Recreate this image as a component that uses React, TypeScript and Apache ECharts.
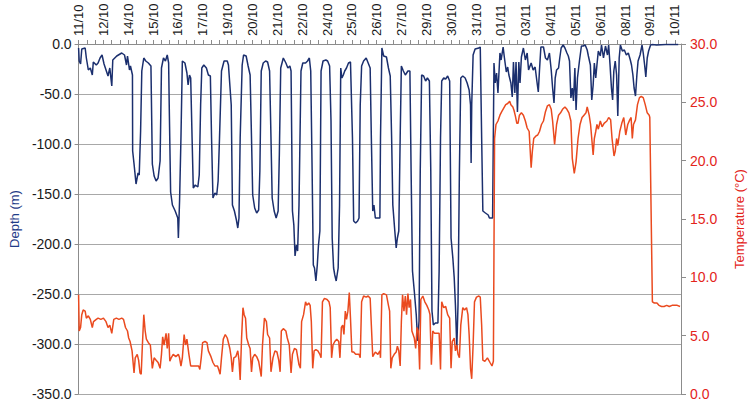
import React, { useEffect, useRef } from "react";
import * as echarts from "echarts";

// time = days since 11/10 00:00
const depthReadings: [number, number][] = [
  [0.60,-4],[0.63,-17],[0.70,-20],[0.76,-5],[0.93,-4],[0.99,-14],[1.09,-26],[1.19,-24],[1.29,-31],[1.34,-18],
  [1.49,-21],[1.58,-19],[1.68,-14],[1.78,-11],[1.88,-20],[1.98,-26],[2.08,-32],[2.17,-24],[2.27,-42],[2.32,-16],
  [2.52,-12],[2.77,-9],[2.91,-11],[3.01,-21],[3.06,-12],[3.16,-26],[3.21,-22],[3.31,-31],[3.32,-107],[3.39,-120],
  [3.49,-140],[3.59,-129],[3.65,-131],[3.72,-87],[3.78,-27],[3.88,-14],[3.98,-17],[4.11,-19],[4.24,-22],[4.31,-120],
  [4.40,-132],[4.50,-137],[4.60,-134],[4.70,-117],[4.77,-24],[4.87,-14],[4.97,-17],[5.06,-11],[5.13,-19],[5.16,-61],
  [5.23,-148],[5.32,-161],[5.46,-167],[5.59,-174],[5.62,-194],[5.68,-157],[5.75,-94],[5.82,-17],[5.95,-19],[6.05,-29],
  [6.11,-41],[6.18,-31],[6.24,-34],[6.31,-94],[6.37,-144],[6.47,-141],[6.60,-143],[6.67,-131],[6.74,-61],[6.80,-24],
  [6.90,-21],[7.03,-24],[7.13,-31],[7.23,-32],[7.29,-94],[7.36,-154],[7.46,-149],[7.55,-151],[7.62,-137],[7.69,-94],
  [7.79,-27],[7.92,-17],[8.08,-17],[8.14,-21],[8.28,-61],[8.34,-161],[8.44,-167],[8.54,-176],[8.61,-184],[8.67,-174],
  [8.73,-94],[8.83,-21],[8.90,-11],[9.03,-12],[9.13,-22],[9.23,-31],[9.30,-94],[9.36,-151],[9.46,-164],[9.56,-169],
  [9.66,-166],[9.72,-127],[9.79,-27],[9.89,-19],[10.01,-17],[10.11,-18],[10.21,-27],[10.28,-94],[10.34,-154],[10.44,-167],
  [10.54,-174],[10.64,-167],[10.70,-111],[10.77,-24],[10.90,-14],[11.03,-19],[11.13,-24],[11.23,-22],[11.29,-27],[11.36,-167],
  [11.43,-181],[11.49,-212],[11.56,-201],[11.62,-207],[11.69,-161],[11.79,-27],[11.88,-19],[12.02,-19],[12.12,-17],[12.21,-14],
  [12.28,-27],[12.35,-127],[12.41,-221],[12.47,-224],[12.54,-237],[12.61,-221],[12.67,-201],[12.74,-187],[12.80,-27],[12.90,-17],
  [13.04,-16],[13.13,-17],[13.23,-22],[13.30,-77],[13.36,-194],[13.43,-224],[13.49,-231],[13.56,-237],[13.66,-224],[13.73,-161],
  [13.79,-24],[13.85,-34],[13.92,-31],[13.99,-27],[14.08,-24],[14.18,-19],[14.28,-18],[14.38,-94],[14.44,-177],[14.54,-179],
  [14.64,-177],[14.71,-174],[14.77,-61],[14.84,-22],[14.94,-17],[15.07,-14],[15.17,-19],[15.27,-24],[15.33,-94],[15.40,-167],
  [15.46,-161],[15.53,-174],[15.76,-174],[15.79,-94],[15.86,-4],[15.95,-12],[16.09,-13],[16.19,-24],[16.28,-32],[16.35,-94],
  [16.41,-161],[16.51,-187],[16.58,-204],[16.64,-194],[16.71,-187],[16.78,-94],[16.84,-22],[16.94,-27],[17.04,-31],[17.17,-27],
  [17.27,-27],[17.33,-127],[17.40,-227],[17.49,-247],[17.59,-271],[17.66,-297],[17.73,-277],[17.79,-127],[17.86,-31],[17.96,-32],
  [18.06,-37],[18.15,-34],[18.25,-37],[18.32,-127],[18.38,-267],[18.45,-281],[18.55,-279],[18.68,-279],[18.74,-227],[18.81,-94],
  [18.87,-37],[18.97,-34],[19.07,-35],[19.17,-32],[19.27,-37],[19.34,-194],[19.43,-214],[19.50,-234],[19.56,-261],[19.63,-304],
  [19.69,-261],[19.76,-127],[19.83,-34],[19.93,-32],[20.05,-34],[20.15,-39],[20.25,-46],[20.32,-61],[20.35,-119],[20.38,-61],
  [20.45,-11],[20.55,-5],[20.74,-4],[20.81,-3],[20.88,-94],[20.94,-167],[21.07,-169],[21.21,-171],[21.27,-174],[21.43,-174],
  [21.50,-19],[21.56,-39],[21.63,-29],[21.70,-49],[21.80,-9],[21.86,-16],[21.96,-3],[22.02,-13],[22.12,-28],[22.19,-23],
  [22.25,-31],[22.35,-39],[22.42,-53],[22.48,-18],[22.55,-49],[22.61,-18],[22.68,-68],[22.75,-18],[22.81,-39],[22.88,-13],
  [22.98,-4],[23.08,-16],[23.17,-9],[23.24,-26],[23.37,-19],[23.47,-26],[23.57,-23],[23.67,-39],[23.73,-48],[23.79,-26],
  [23.86,-3],[23.99,-3],[24.09,-14],[24.19,-16],[24.29,-9],[24.38,-26],[24.45,-44],[24.52,-59],[24.58,-34],[24.65,-26],
  [24.75,-24],[24.81,-14],[24.88,-4],[24.98,-1],[25.07,-4],[25.17,-9],[25.24,-12],[25.30,-17],[25.37,-54],[25.44,-44],
  [25.50,-57],[25.57,-24],[25.63,-66],[25.70,-34],[25.80,-17],[25.90,-2],[25.99,-2],[26.09,-1],[26.19,-6],[26.25,-12],
  [26.35,-21],[26.42,-56],[26.49,-41],[26.55,-19],[26.62,-34],[26.68,-21],[26.75,-7],[26.85,-12],[26.91,-1],[27.01,-14],
  [27.11,-2],[27.21,-11],[27.27,-1],[27.34,-21],[27.41,-44],[27.47,-56],[27.53,-27],[27.60,-17],[27.67,-31],[27.73,-72],
  [27.80,-14],[27.86,-1],[27.96,-7],[28.06,-6],[28.16,-11],[28.26,-9],[28.36,-16],[28.42,-21],[28.49,-31],[28.55,-44],
  [28.62,-52],[28.69,-31],[28.75,-17],[28.85,-11],[28.95,-1],[29.01,-9],[29.08,-21],[29.14,-33],[29.21,-14],[29.28,-7],
  [29.38,-1],[29.47,-0.5],[29.68,-1],[30.13,-0.5],[30.77,-0.5]
];

const temperatureReadings: [number, number][] = [
  [0.60,8.5],[0.63,5.4],[0.70,5.7],[0.76,6.8],[0.83,7.2],[0.93,7.1],[0.99,6.5],[1.09,6.7],[1.19,6.4],[1.29,5.7],
  [1.35,6.2],[1.49,6.4],[1.58,6.5],[1.72,6.4],[1.85,6.5],[1.98,6.2],[2.08,5.7],[2.17,5.9],[2.27,5.2],[2.37,6.4],
  [2.50,6.5],[2.63,6.4],[2.77,6.5],[2.86,6.4],[2.96,5.7],[3.06,5.4],[3.12,4.8],[3.19,4.5],[3.29,3.7],[3.39,1.8],
  [3.45,3.1],[3.55,3.4],[3.62,2.9],[3.69,1.8],[3.75,1.7],[3.81,4.2],[3.88,6.8],[3.95,5.4],[4.01,4.7],[4.11,4.4],
  [4.21,4.2],[4.31,2.2],[4.40,3.1],[4.50,2.9],[4.60,2.7],[4.70,2.2],[4.77,3.4],[4.83,4.9],[4.90,4.2],[5.00,5.2],
  [5.06,3.9],[5.13,5.2],[5.19,2.8],[5.26,3.1],[5.36,3.4],[5.49,3.2],[5.62,3.4],[5.68,3.1],[5.75,2.4],[5.82,3.1],
  [5.91,5.1],[5.98,4.2],[6.05,4.7],[6.15,3.4],[6.24,2.4],[6.34,2.4],[6.54,2.4],[6.64,2.4],[6.70,2.1],[6.77,3.1],
  [6.84,4.4],[6.96,4.5],[7.06,4.4],[7.13,3.7],[7.26,3.2],[7.36,2.7],[7.46,2.4],[7.59,2.4],[7.65,2.1],[7.72,1.7],
  [7.79,3.1],[7.88,4.7],[7.98,5.1],[8.08,4.8],[8.21,3.9],[8.28,3.1],[8.34,1.9],[8.41,3.1],[8.51,3.2],[8.61,3.7],
  [8.67,2.9],[8.73,1.2],[8.80,4.8],[8.87,7.4],[8.93,6.8],[9.00,6.5],[9.06,4.8],[9.16,4.2],[9.23,3.9],[9.30,1.9],
  [9.36,3.1],[9.46,3.4],[9.56,3.2],[9.66,2.8],[9.72,2.2],[9.79,1.5],[9.85,4.1],[9.95,6.5],[10.05,6.2],[10.11,5.1],
  [10.21,4.8],[10.28,1.9],[10.38,3.1],[10.48,3.7],[10.58,3.6],[10.67,2.9],[10.74,1.9],[10.80,5.4],[10.90,5.6],[11.03,5.4],
  [11.10,4.8],[11.20,4.2],[11.29,1.8],[11.36,3.4],[11.46,3.9],[11.56,3.8],[11.62,3.2],[11.69,2.5],[11.76,2.2],[11.82,6.2],
  [11.92,6.8],[12.02,7.9],[12.08,7.6],[12.18,7.8],[12.25,7.6],[12.31,6.2],[12.38,2.2],[12.45,3.7],[12.54,3.8],[12.64,3.7],
  [12.74,3.4],[12.80,3.1],[12.87,7.9],[12.97,8.2],[13.10,8.1],[13.20,7.9],[13.26,7.4],[13.33,3.1],[13.40,4.2],[13.49,4.5],
  [13.59,4.7],[13.69,4.5],[13.75,3.1],[13.82,5.7],[13.89,5.9],[13.95,5.1],[14.02,7.1],[14.08,6.4],[14.15,7.1],[14.22,8.7],
  [14.28,6.5],[14.35,3.6],[14.44,3.6],[14.54,3.4],[14.71,3.4],[14.77,3.1],[14.84,7.9],[14.94,8.4],[15.07,8.3],[15.17,8.4],
  [15.27,8.2],[15.33,5.9],[15.40,3.2],[15.53,3.6],[15.66,3.4],[15.76,3.7],[15.79,3.1],[15.86,8.5],[15.95,8.6],[16.09,8.5],
  [16.19,7.6],[16.25,7.1],[16.31,2.2],[16.38,3.1],[16.48,3.4],[16.58,3.6],[16.64,4.1],[16.71,3.7],[16.78,2.4],[16.84,6.2],
  [16.90,8.5],[16.97,7.1],[17.04,8.4],[17.10,6.8],[17.17,8.6],[17.23,7.4],[17.30,8.1],[17.37,5.4],[17.43,5.1],[17.49,4.8],
  [17.56,3.9],[17.63,5.7],[17.69,5.4],[17.76,2.1],[17.82,8.1],[17.92,8.4],[18.02,7.9],[18.12,7.6],[18.22,7.2],[18.28,6.8],
  [18.35,2.5],[18.42,5.4],[18.51,5.2],[18.74,5.2],[18.81,2.1],[18.87,7.9],[18.97,7.4],[19.07,7.5],[19.17,6.8],[19.27,6.5],
  [19.34,2.2],[19.40,4.5],[19.50,4.8],[19.56,3.7],[19.63,4.2],[19.69,3.4],[19.76,3.1],[19.83,5.9],[19.93,7.4],[20.02,7.2],
  [20.12,7.4],[20.19,6.8],[20.25,5.1],[20.32,2.2],[20.38,1.3],[20.45,4.2],[20.52,7.9],[20.62,8.3],[20.74,8.4],[20.81,8.3],
  [20.88,5.9],[20.94,2.9],[21.04,2.8],[21.17,3.1],[21.30,2.7],[21.40,2.4],[21.47,2.8],[21.53,21.9],[21.60,23.1],[21.70,23.4],
  [21.80,23.9],[21.89,24.2],[21.99,24.5],[22.09,24.8],[22.19,24.9],[22.29,25.1],[22.35,24.8],[22.45,24.6],[22.51,24.3],[22.58,23.8],
  [22.65,23.2],[22.71,23.2],[22.78,23.9],[22.88,24.1],[22.98,23.9],[23.08,23.4],[23.17,22.8],[23.27,22.5],[23.37,19.4],[23.43,20.8],
  [23.50,21.9],[23.60,22.1],[23.70,22.2],[23.79,22.5],[23.89,23.1],[23.99,23.4],[24.09,24.2],[24.19,24.7],[24.29,24.8],[24.38,24.4],
  [24.45,23.4],[24.55,21.4],[24.65,23.1],[24.75,23.9],[24.85,24.1],[24.95,24.4],[25.07,24.6],[25.17,24.4],[25.27,24.1],[25.37,23.4],
  [25.44,20.2],[25.54,18.9],[25.63,19.9],[25.73,21.9],[25.83,23.1],[25.93,23.7],[26.03,23.9],[26.13,24.1],[26.19,24.6],[26.29,23.9],
  [26.36,23.1],[26.42,21.9],[26.49,20.5],[26.55,21.9],[26.62,22.5],[26.68,23.1],[26.75,22.7],[26.85,23.4],[26.94,22.9],[27.04,23.2],
  [27.18,23.4],[27.27,23.7],[27.37,23.5],[27.44,21.9],[27.54,20.4],[27.60,20.8],[27.67,21.9],[27.73,21.3],[27.83,22.5],[27.93,23.2],
  [28.03,23.7],[28.13,22.2],[28.23,23.1],[28.33,23.5],[28.40,23.7],[28.46,21.9],[28.52,23.1],[28.62,23.5],[28.72,24.8],[28.82,25.4],
  [28.91,25.5],[29.01,25.4],[29.11,24.8],[29.21,24.1],[29.31,23.9],[29.34,23.7],[29.47,7.9],[29.57,7.8],[29.70,7.8],[29.80,7.6],
  [29.93,7.5],[30.06,7.5],[30.19,7.6],[30.32,7.5],[30.46,7.6],[30.59,7.6],[30.72,7.6],[30.86,7.5]
];

// date tick labels every 1.25 days, starting 11/10 at 0.6 day
const firstLabelDay = 0.6;
const labelStep = 1.25;
const labelCount = 25;
const axisStartYear = 2011;

const depthTicks = [0, -50, -100, -150, -200, -250, -300, -350];
const tempTicks = [0, 5, 10, 15, 20, 25, 30];

const labelDays = Array.from({ length: labelCount }, (_, i) => firstLabelDay + i * labelStep);
const tickDays = Array.from({ length: (labelCount - 1) * 3 + 1 }, (_, i) => firstLabelDay + (i * labelStep) / 3);

function dayLabel(v: number): string {
  const d = new Date(Date.UTC(axisStartYear, 9, 11 + Math.floor(v + 1e-6)));
  const dd = String(d.getUTCDate()).padStart(2, "0");
  const mm = String(d.getUTCMonth() + 1).padStart(2, "0");
  return dd + "/" + mm;
}

const NAVY = "#1b2f6e";
const RED = "#ea4a1f";
const LABEL_RED = "#e3241b";
const GRID = "#a8a8a8";
const AXIS = "#8c8c8c";
const FONT = "Liberation Sans, Arial, sans-serif";

export default function App() {
  const ref = useRef<HTMLDivElement>(null);
  useEffect(() => {
    if (!ref.current) return;
    const chart = echarts.init(ref.current, undefined, { renderer: "svg" });
    chart.setOption({
      animation: false,
      backgroundColor: "#ffffff",
      grid: { left: 69.5, right: 68, top: 44, bottom: 10, containLabel: false },
      xAxis: {
        type: "value",
        position: "top",
        min: firstLabelDay,
        max: 30.91,
        axisLine: { show: true, lineStyle: { color: AXIS, width: 1 } },
        axisTick: { show: true, length: 4, lineStyle: { color: AXIS }, customValues: tickDays },
        axisLabel: {
          customValues: labelDays,
          rotate: 90,
          margin: 8,
          color: "#1a1a1a",
          fontSize: 13,
          fontFamily: FONT,
          formatter: (v: number) => dayLabel(v),
        },
        splitLine: { show: false },
      },
      yAxis: [
        {
          type: "value",
          min: -350,
          max: 0,
          interval: 50,
          name: "Depth (m)",
          nameLocation: "middle",
          nameGap: 55,
          nameTextStyle: { color: "#1f3c88", fontSize: 13, fontFamily: FONT },
          axisLine: { show: true, lineStyle: { color: AXIS } },
          axisTick: { show: true, length: 4, lineStyle: { color: AXIS } },
          axisLabel: {
            color: "#1a1a1a",
            fontSize: 14,
            fontFamily: FONT,
            margin: 7,
            formatter: (v: number) => (depthTicks.includes(v) ? v.toFixed(1) : ""),
          },
          splitLine: { show: true, lineStyle: { color: GRID, width: 1 } },
        },
        {
          type: "value",
          min: 0,
          max: 30,
          interval: 5,
          position: "right",
          name: "Temperature (°C)",
          nameLocation: "middle",
          nameGap: 52,
          nameRotate: 90,
          nameTextStyle: { color: LABEL_RED, fontSize: 13, fontFamily: FONT },
          axisLine: { show: true, lineStyle: { color: AXIS } },
          axisTick: { show: true, length: 5, lineStyle: { color: AXIS } },
          axisLabel: {
            color: LABEL_RED,
            fontSize: 14,
            fontFamily: FONT,
            margin: 9,
            formatter: (v: number) => (tempTicks.includes(v) ? v.toFixed(1) : ""),
          },
          splitLine: { show: false },
        },
      ],
      series: [
        {
          name: "Depth",
          type: "line",
          yAxisIndex: 0,
          data: depthReadings,
          showSymbol: false,
          symbol: "none",
          lineStyle: { color: NAVY, width: 1.5 },
          itemStyle: { color: NAVY },
        },
        {
          name: "Temperature",
          type: "line",
          yAxisIndex: 1,
          data: temperatureReadings,
          showSymbol: false,
          symbol: "none",
          lineStyle: { color: RED, width: 1.5 },
          itemStyle: { color: RED },
        },
      ],
    });
    return () => chart.dispose();
  }, []);
  return (
    <div
      ref={ref}
      style={{ position: "fixed", left: 0, top: 0, width: 754, height: 404, background: "#fff" }}
    />
  );
}
